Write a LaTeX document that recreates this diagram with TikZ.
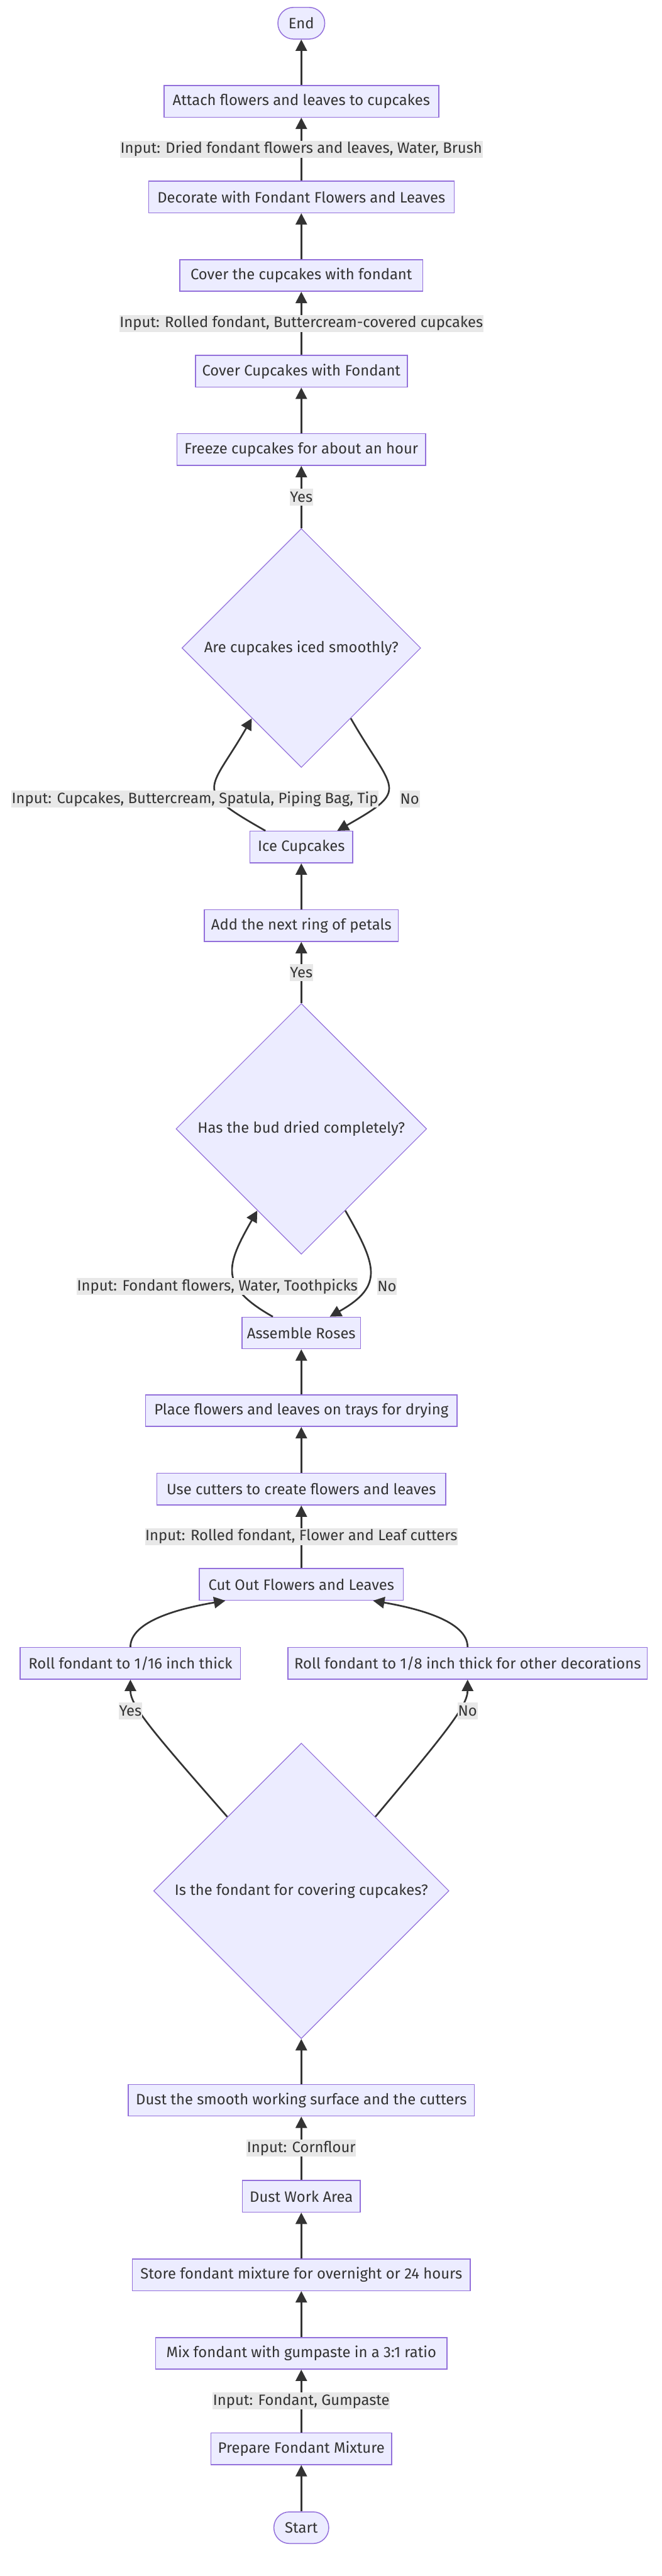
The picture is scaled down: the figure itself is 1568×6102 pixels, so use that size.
\documentclass[tikz,border=0pt]{standalone}
\usepackage{fontspec}
\setmainfont{Fira Sans}
\usetikzlibrary{shapes.geometric, arrows.meta, calc}
\definecolor{nodefill}{HTML}{ECECFF}
\definecolor{nodeborder}{HTML}{9370DB}
\definecolor{linec}{HTML}{333333}
\definecolor{textc}{HTML}{333333}
\definecolor{lblbg}{HTML}{E8E8E8}
\newcommand{\dfont}{\fontsize{35.5pt}{42pt}\selectfont}
\tikzset{
 box/.style={draw=nodeborder, fill=nodefill, line width=2.2pt, minimum height=75pt, inner sep=0pt, text=textc, font=\dfont},
 term/.style={box, rounded corners=37pt},
 dec/.style={diamond, aspect=1, draw=nodeborder, fill=nodefill, line width=1.8pt, inner sep=0pt, text=textc, font=\dfont},
 lbl/.style={fill=lblbg, inner xsep=1pt, inner ysep=0pt, minimum height=40pt, text=textc, font=\dfont},
 edge/.style={draw=linec, line width=4pt, -{Triangle[length=27pt,width=27pt]}},
}
\begin{document}
\begin{tikzpicture}[x=1pt, y=-1pt]
\useasboundingbox[fill=white] (0,0) rectangle (1568,6102);
% nodes
\node[term, minimum width=111pt] (endn) at (714,55) {End};
\node[box, minimum width=651pt] (attach) at (714,240) {Attach flowers and leaves to cupcakes};
\node[box, minimum width=724pt] (deco) at (714,466.5) {Decorate with Fondant Flowers and Leaves};
\node[box, minimum width=576pt] (covthe) at (714,652.5) {Cover the cupcakes with fondant};
\node[box, minimum width=502pt] (covcup) at (714,879.5) {Cover Cupcakes with Fondant};
\node[box, minimum width=589pt] (freeze) at (714,1065) {Freeze cupcakes for about an hour};
\node[dec, minimum width=566pt, minimum height=566pt] (d1) at (714,1535) {Are cupcakes iced smoothly?};
\node[box, minimum width=243pt] (ice) at (714,2006.5) {Ice Cupcakes};
\node[box, minimum width=459pt] (ring) at (714,2192.5) {Add the next ring of petals};
\node[dec, minimum width=594pt, minimum height=594pt] (d2) at (714,2674) {Has the bud dried completely?};
\node[box, minimum width=281pt] (asm) at (714,3157.5) {Assemble Roses};
\node[box, minimum width=738pt] (place) at (714,3341.5) {Place flowers and leaves on trays for drying};
\node[box, minimum width=685pt] (usecut) at (714,3527.5) {Use cutters to create flowers and leaves};
\node[box, minimum width=483pt] (cutout) at (714,3753) {Cut Out Flowers and Leaves};
\node[box, minimum width=522pt] (roll16) at (309,3940) {Roll fondant to 1/16 inch thick};
\node[box, minimum width=852pt] (roll8) at (1108,3940) {Roll fondant to 1/8 inch thick for other decorations};
\node[dec, minimum width=700pt, minimum height=700pt] (d3) at (714,4479) {Is the fondant for covering cupcakes?};
\node[box, minimum width=820pt] (dust) at (714,4975) {Dust the smooth working surface and the cutters};
\node[box, minimum width=279pt] (dwa) at (714,5202.5) {Dust Work Area};
\node[box, minimum width=801pt] (store) at (714,5388.5) {Store fondant mixture for overnight or 24 hours};
\node[box, minimum width=690pt] (mix) at (714,5574.5) {Mix fondant with gumpaste in a 3:1 ratio};
\node[box, minimum width=428pt] (prep) at (714,5800.5) {Prepare Fondant Mixture};
\node[term, minimum width=130pt] (start) at (714,5987.5) {Start};
% straight edges
\draw[edge] (start.north) -- (prep.south);
\draw[edge] (prep.north) -- node[midway, lbl] {Input: Fondant, Gumpaste} (mix.south);
\draw[edge] (mix.north) -- (store.south);
\draw[edge] (store.north) -- (dwa.south);
\draw[edge] (dwa.north) -- node[midway, lbl] {Input: Cornflour} (dust.south);
\draw[edge] (dust.north) -- (d3.south);
\draw[edge] (cutout.north) -- node[midway, lbl] {Input: Rolled fondant, Flower and Leaf cutters} (usecut.south);
\draw[edge] (usecut.north) -- (place.south);
\draw[edge] (place.north) -- (asm.south);
\draw[edge] (d2.north) -- node[midway, lbl] {Yes} (ring.south);
\draw[edge] (ring.north) -- (ice.south);
\draw[edge] (d1.north) -- node[midway, lbl] {Yes} (freeze.south);
\draw[edge] (freeze.north) -- (covcup.south);
\draw[edge] (covcup.north) -- node[midway, lbl] {Input: Rolled fondant, Buttercream-covered cupcakes} (covthe.south);
\draw[edge] (covthe.north) -- (deco.south);
\draw[edge] (deco.north) -- node[midway, lbl] {Input: Dried fondant flowers and leaves, Water, Brush} (attach.south);
\draw[edge] (attach.north) -- (endn.south);
% decision 3 branches
\draw[edge] ($(d3.north)!0.5!(d3.west)$) .. controls (360,4100) and (309,4040) .. (roll16.south);
\draw[edge] ($(d3.north)!0.5!(d3.east)$) .. controls (1060,4100) and (1108,4040) .. (roll8.south);
\node[lbl] (lyes3) at (309,4053) {Yes};
\node[lbl] (lno3) at (1108,4053) {No};
% roll boxes to cut out
\draw[edge] (roll16.north) .. controls (309,3840) and (425,3810) .. ($(cutout.south)+(-180,0)$);
\draw[edge] (roll8.north) .. controls (1108,3840) and (990,3810) .. ($(cutout.south)+(170,0)$);
% loop 2
\draw[edge] ($(asm.north)+(-67.5,0)$) .. controls (517,3046) and (536,2997) .. ($(d2.south)!0.35!(d2.west)$);
\draw[edge] ($(d2.south)!0.35!(d2.east)$) .. controls (892,2997) and (911,3046) .. ($(asm.north)+(67.5,0)$);
\node[lbl] (lin2) at (515,3047) {Input: Fondant flowers, Water, Toothpicks};
\node[lbl] (lno2) at (917,3047) {No};
% loop 1
\draw[edge] ($(ice.north)+(-85,0)$) .. controls (453,1868) and (496,1877) .. ($(d1.south)!0.413!(d1.west)$);
\draw[edge] ($(d1.south)!0.413!(d1.east)$) .. controls (932,1877) and (975,1868) .. ($(ice.north)+(85,0)$);
\node[lbl] (lin1) at (462,1893) {Input: Cupcakes, Buttercream, Spatula, Piping Bag, Tip};
\node[lbl] (lno1) at (971,1893) {No};
\end{tikzpicture}
\end{document}
